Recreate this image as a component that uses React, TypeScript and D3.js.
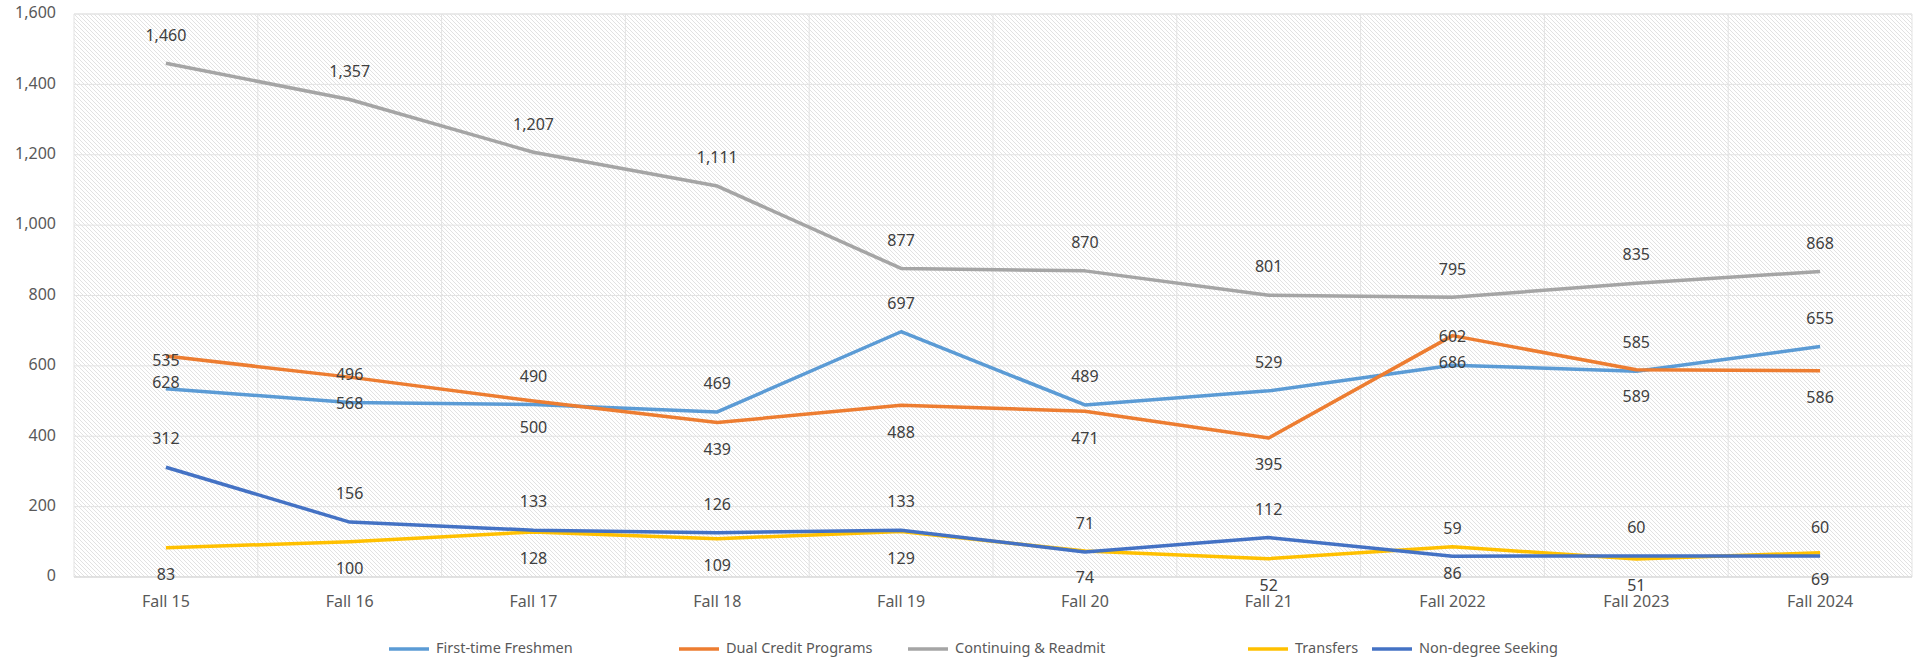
import React from "react";
import * as d3 from "d3";

const categories = ["Fall 15", "Fall 16", "Fall 17", "Fall 18", "Fall 19", "Fall 20", "Fall 21", "Fall 2022", "Fall 2023", "Fall 2024"];
const firstTime = [535, 496, 490, 469, 697, 489, 529, 602, 585, 655];
const dualCredit = [628, 568, 500, 439, 488, 471, 395, 686, 589, 586];
const continuing = [1460, 1357, 1207, 1111, 877, 870, 801, 795, 835, 868];
const transfers = [83, 100, 128, 109, 129, 74, 52, 86, 51, 69];
const nonDegree = [312, 156, 133, 126, 133, 71, 112, 59, 60, 60];
const yTicks = [0, 200, 400, 600, 800, 1000, 1200, 1400, 1600];

const series = [
  { name: "First-time Freshmen", values: firstTime, color: "#5B9BD5", label: "above" },
  { name: "Dual Credit Programs", values: dualCredit, color: "#ED7D31", label: "below" },
  { name: "Continuing & Readmit", values: continuing, color: "#A5A5A5", label: "above" },
  { name: "Transfers", values: transfers, color: "#FFC000", label: "below" },
  { name: "Non-degree Seeking", values: nonDegree, color: "#4472C4", label: "above" },
];

const legendX = [389, 679, 908, 1248, 1372];

const W = 1919, H = 660;
const left = 74, right = 1912, top = 14, bottom = 577;
const font = "'Noto Sans', sans-serif";

export default function App() {
  const x = d3.scaleBand().domain(categories).range([left, right]);
  const y = d3.scaleLinear().domain([0, 1600]).range([bottom, top]);
  const cx = (c: string) => (x(c) as number) + x.bandwidth() / 2;
  const line = d3.line<number>().x((_, i) => cx(categories[i])).y((v) => y(v));
  const fmt = d3.format(",");
  return (
    <svg width={W} height={H} style={{ position: "absolute", left: 0, top: 0, background: "#fff" }} fontFamily={font}>
      <defs>
        <pattern id="hatch" width={4} height={4} patternUnits="userSpaceOnUse">
          <path d="M0,0 L4,4 M-1,3 L1,5 M3,-1 L5,1" stroke="#e2e2e2" strokeWidth={1} />
        </pattern>
      </defs>
      <rect x={left} y={top} width={right - left} height={bottom - top} fill="url(#hatch)" />
      {yTicks.map((t) => (
        <g key={t}>
          {t > 0 && <line x1={left} x2={right} y1={y(t)} y2={y(t)} stroke="#e3e3e3" strokeWidth={1} />}
          <text x={56} y={y(t)} textAnchor="end" dominantBaseline="middle" fontSize={16} fill="#595959">{fmt(t)}</text>
        </g>
      ))}
      {categories.map((c) => (
        <line key={c} x1={x(c) as number} x2={x(c) as number} y1={top} y2={bottom} stroke="#e3e3e3" strokeWidth={1} />
      ))}
      <line x1={right} x2={right} y1={top} y2={bottom} stroke="#e3e3e3" strokeWidth={1} />
      <line x1={left} x2={right} y1={top} y2={top} stroke="#e3e3e3" strokeWidth={1} />
      <line x1={left} x2={right} y1={bottom} y2={bottom} stroke="#d9d9d9" strokeWidth={1.5} />
      {categories.map((c) => (
        <text key={c} x={cx(c)} y={603} textAnchor="middle" dominantBaseline="middle" fontSize={16} fill="#595959">{c}</text>
      ))}
      {series.map((s) => (
        <path key={s.name} d={line(s.values) as string} fill="none" stroke={s.color} strokeWidth={3.5} strokeLinejoin="round" />
      ))}
      {series.map((s) =>
        s.values.map((v, i) => (
          <text key={s.name + i} x={cx(categories[i])} y={y(v) + (s.label === "above" ? -27 : 28)} textAnchor="middle" dominantBaseline="middle" fontSize={16} fill="#404040">{fmt(v)}</text>
        ))
      )}
      {series.map((s, i) => (
        <g key={s.name}>
          <line x1={legendX[i]} x2={legendX[i] + 40} y1={649} y2={649} stroke={s.color} strokeWidth={3.5} />
          <text x={legendX[i] + 47} y={649} dominantBaseline="middle" fontSize={14.5} fill="#595959">{s.name}</text>
        </g>
      ))}
    </svg>
  );
}
